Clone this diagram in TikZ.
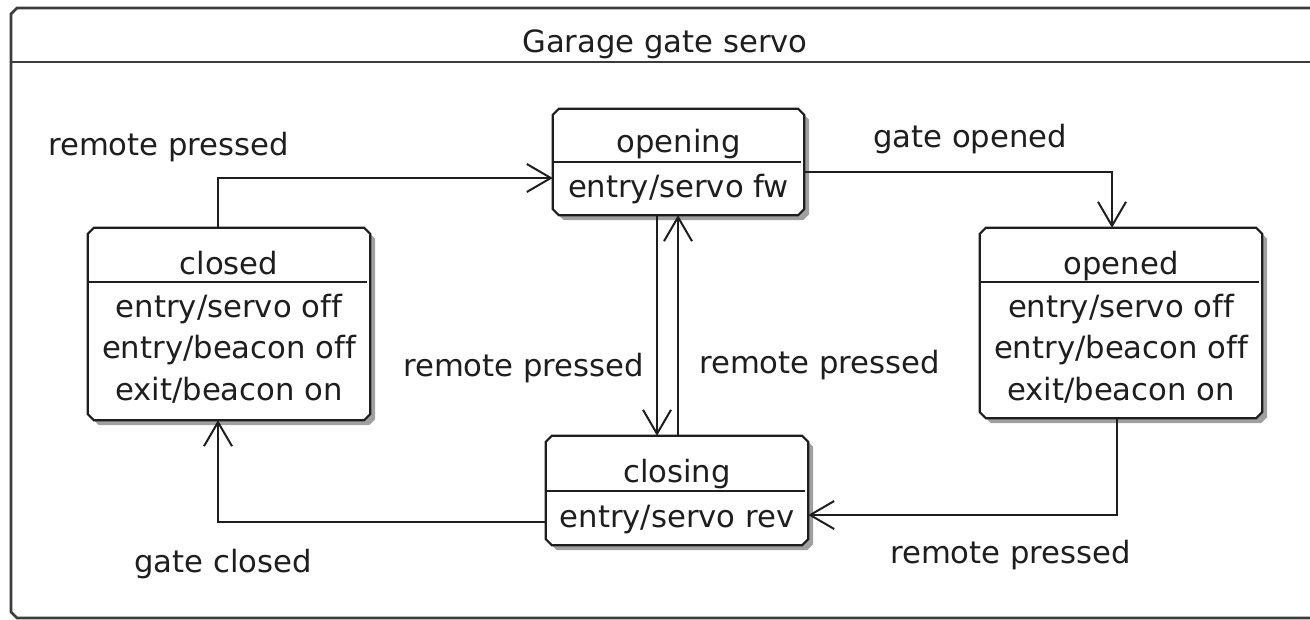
\documentclass[tikz,border=0pt]{standalone}
\usepackage{fontspec}
\setmainfont[Ligatures=NoCommon]{DejaVu Sans}
\usetikzlibrary{arrows.meta,calc}

\definecolor{ink}{HTML}{1E1E1E}
\definecolor{framecol}{HTML}{3C3C3C}
\definecolor{shade}{HTML}{A0A0A0}

\tikzset{
  x=1bp, y=-1bp,
  every node/.style={font=\fontsize{30.8}{42}\selectfont, text=ink, inner sep=0pt},
  statebox/.style={rectangle, draw=none},
  boxline/.style={draw=ink, line width=2.2bp, fill=white},
  boxshade/.style={fill=shade, transform canvas={shift={(5bp,-5bp)}}},
  divider/.style={draw=ink, line width=2bp},
  tr/.style={draw=ink, line width=2bp,
    -{Straight Barb[length=24bp, width=28bp, line width=2bp]}},
  lbl/.style={anchor=base west},
  act/.style={anchor=base},
}

% chamfered outline of a state node, with its drop shadow
\newcommand\chamferpath[1]{%
  ($(#1.north west)+(6,0)$) -- ($(#1.north east)+(-6,0)$) -- ($(#1.north east)+(0,6)$)
  -- ($(#1.south east)+(0,-6)$) -- ($(#1.south east)+(-6,0)$) -- ($(#1.south west)+(6,0)$)
  -- ($(#1.south west)+(0,-6)$) -- ($(#1.north west)+(0,6)$) -- cycle}
\newcommand\chamferbox[1]{%
  \fill[boxshade] \chamferpath{#1};
  \draw[boxline] \chamferpath{#1};
}

\begin{document}
\begin{tikzpicture}
\useasboundingbox (0,0) rectangle (1310,620);
\fill[white] (0,0) rectangle (1310,620);

% enclosing state frame with its title bar
\draw[framecol, line width=2.6bp]
  (1315,8) -- (17,8) -- (11,14) -- (11,612) -- (17,618) -- (1315,618);
\draw[framecol, line width=2.6bp] (11,62) -- (1315,62);
\node[act] (title) at (665,53) {Garage gate servo};

% states
\node[statebox, minimum width=251bp, minimum height=106bp] (opening) at (678.5,162) {};
\node[statebox, minimum width=282bp, minimum height=192bp] (closed) at (229,324) {};
\node[statebox, minimum width=282bp, minimum height=190bp] (opened) at (1121,323) {};
\node[statebox, minimum width=262bp, minimum height=109bp] (closing) at (677,490.5) {};

\chamferbox{opening}
\chamferbox{closed}
\chamferbox{opened}
\chamferbox{closing}

\draw[divider] (opening.west |- 0,162) -- ($(opening.east |- 0,162)+(-3,0)$);
\draw[divider] (closed.west |- 0,282) -- ($(closed.east |- 0,282)+(-3,0)$);
\draw[divider] (opened.west |- 0,282) -- ($(opened.east |- 0,282)+(-3,0)$);
\draw[divider] (closing.west |- 0,491) -- ($(closing.east |- 0,491)+(-3,0)$);

\node[act] (openingname) at (678.5,153) {opening};
\node[act] (openingact) at (678.5,197) {entry/servo fw};

\node[act] (closedname) at (229,274) {closed};
\node[act] (closedact1) at (229,317) {entry/servo off};
\node[act] (closedact2) at (229,358) {entry/beacon off};
\node[act] (closedact3) at (229,400) {exit/beacon on};

\node[act] (openedname) at (1121,274) {opened};
\node[act] (openedact1) at (1121,317) {entry/servo off};
\node[act] (openedact2) at (1121,358) {entry/beacon off};
\node[act] (openedact3) at (1121,400) {exit/beacon on};

\node[act] (closingname) at (677,482) {closing};
\node[act] (closingact) at (677,527) {entry/servo rev};

% transitions
\draw[tr] ($(closed.north)+(-11,0)$) |- ($(opening.west)+(0,16)$);
\draw[tr] ($(opening.east)+(0,10)$) -| ($(opened.north)+(-9,0)$);
\draw[tr] ($(opening.south)+(-21.5,0)$) coordinate (down) -- (down |- closing.north);
\draw[tr] ($(closing.north)+(1,0)$) coordinate (up) -- (up |- opening.south);
\draw[tr] ($(opened.south)+(-4,0)$) |- ($(closing.east)+(0,24.5)$);
\draw[tr] ($(closing.west)+(0,31.5)$) -| ($(closed.south)+(-11,0)$);

% transition labels
\node[lbl] (t1) at (48,156) {remote pressed};
\node[lbl] (t2) at (873,148) {gate opened};
\node[lbl] (t3) at (403,376) {remote pressed};
\node[lbl] (t4) at (699,373) {remote pressed};
\node[lbl] (t5) at (890,563) {remote pressed};
\node[lbl] (t6) at (134,572) {gate closed};
\end{tikzpicture}
\end{document}
